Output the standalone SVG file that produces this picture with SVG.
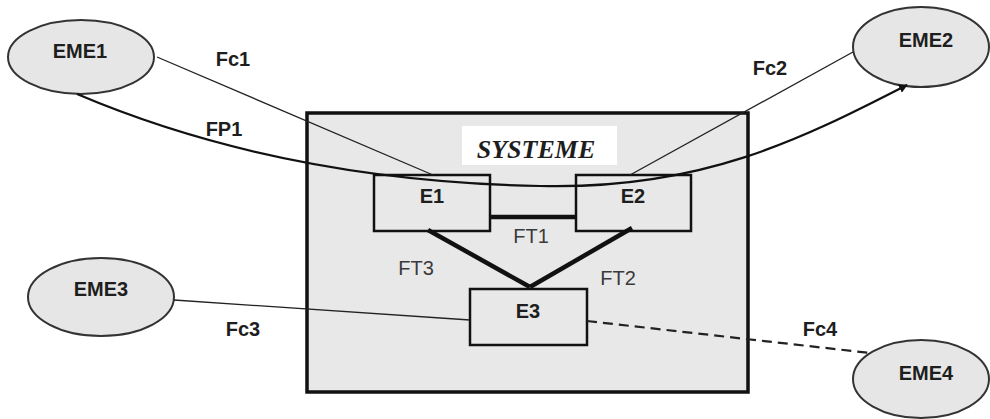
<svg xmlns="http://www.w3.org/2000/svg" width="990" height="419" viewBox="0 0 990 419">
<defs>
<marker id="arr" viewBox="0 0 10 10" refX="9" refY="5" markerWidth="9" markerHeight="9" markerUnits="userSpaceOnUse" orient="auto">
<path d="M0,0 L10,5 L0,10 z" fill="#111"/>
</marker>
</defs>
<style>
.eme{fill:#e6e6e6;stroke:#333;stroke-width:2}
.box{fill:#e8e8e8;stroke:#111;stroke-width:2.5}
.lbl{font-family:"Liberation Sans",Arial,sans-serif;font-size:20px;font-weight:bold;fill:#1e1e1e;text-anchor:middle}
.ft{font-family:"Liberation Sans",Arial,sans-serif;font-size:20px;fill:#3a3a3a;text-anchor:middle}
.thin{fill:none;stroke:#222;stroke-width:1.3}
.dash{fill:none;stroke:#222;stroke-width:2.2;stroke-dasharray:10,6}
.thick{fill:none;stroke:#111;stroke-width:4.5}
</style>
<rect width="990" height="419" fill="#fff"/>
<g id="systeme">
<rect x="307" y="113" width="441" height="279" fill="#e8e8e8" stroke="#111" stroke-width="3.5"/>
<rect x="462" y="126" width="155" height="39" fill="#fff"/>
<text x="536" y="158" font-family="'Liberation Serif','Times New Roman',serif" font-size="26" font-weight="bold" font-style="italic" fill="#1e1e1e" text-anchor="middle">SYSTEME</text>
</g>
<g id="E1"><rect class="box" x="374" y="175" width="116" height="56"/><text class="lbl" x="432" y="203">E1</text></g>
<g id="E2"><rect class="box" x="576" y="175" width="115" height="56"/><text class="lbl" x="633" y="203">E2</text></g>
<g id="E3"><rect class="box" x="470" y="289" width="117" height="56"/><text class="lbl" x="528" y="318">E3</text></g>
<g id="EME1"><ellipse class="eme" cx="81" cy="57" rx="73" ry="37"/><text class="lbl" x="80" y="58">EME1</text></g>
<g id="EME2"><ellipse class="eme" cx="921" cy="47" rx="68" ry="40"/><text class="lbl" x="926" y="47">EME2</text></g>
<g id="EME3"><ellipse class="eme" cx="101" cy="297" rx="73" ry="39"/><text class="lbl" x="101" y="296">EME3</text></g>
<g id="EME4"><ellipse class="eme" cx="921" cy="379" rx="68" ry="39"/><text class="lbl" x="926" y="380">EME4</text></g>
<g id="connectors">
<line class="thin" x1="157" y1="57" x2="433" y2="175"/>
<line class="thin" x1="630" y1="175" x2="853" y2="52"/>
<line class="thin" x1="174" y1="300" x2="470" y2="320"/>
<line class="dash" x1="587" y1="321" x2="870" y2="353"/>
<path d="M77,94 C190,142 340,182 540,186 C700,190 800,140 907,85" fill="none" stroke="#111" stroke-width="2.2" marker-end="url(#arr)"/>
<line class="thick" x1="490" y1="217" x2="576" y2="217"/>
<line class="thick" x1="428" y1="230" x2="530" y2="287"/>
<line class="thick" x1="632" y1="228" x2="530" y2="287"/>
<text class="lbl" x="233" y="66">Fc1</text>
<text class="lbl" x="224" y="136">FP1</text>
<text class="lbl" x="770" y="75">Fc2</text>
<text class="lbl" x="243" y="336">Fc3</text>
<text class="lbl" x="820" y="336">Fc4</text>
<text class="ft" x="531" y="243">FT1</text>
<text class="ft" x="618" y="285">FT2</text>
<text class="ft" x="416" y="275">FT3</text>
</g>
</svg>
